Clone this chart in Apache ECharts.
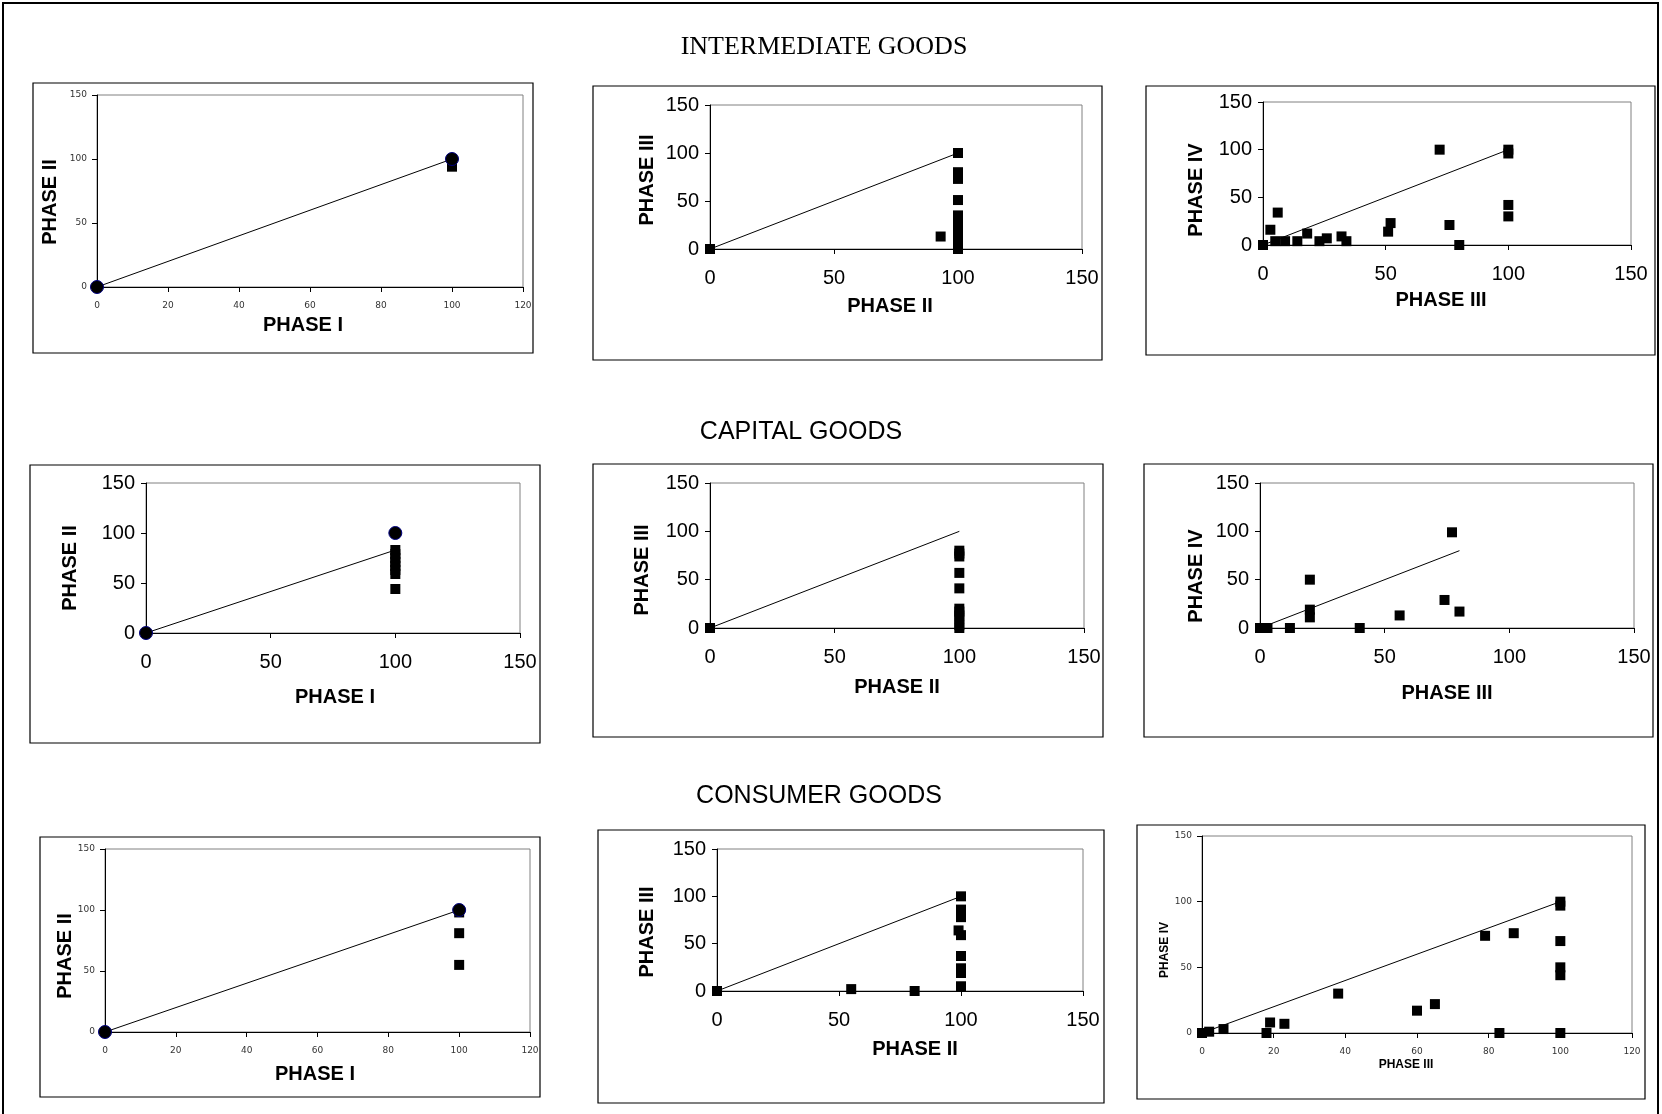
<!DOCTYPE html>
<html><head><meta charset="utf-8">
<script src="https://cdn.jsdelivr.net/npm/echarts@6/dist/echarts.min.js"></script>
<style>html,body{margin:0;padding:0;background:#fff}#c{width:1662px;height:1114px}</style>
</head><body><div id="c"></div>
<script>
// ---------- data ----------
const sectionTitles = ['INTERMEDIATE GOODS', 'CAPITAL GOODS', 'CONSUMER GOODS'];
const xTitles = ['PHASE I', 'PHASE II', 'PHASE III', 'PHASE I', 'PHASE II', 'PHASE III', 'PHASE I', 'PHASE II', 'PHASE III'];
const yTitles = ['PHASE II', 'PHASE III', 'PHASE IV', 'PHASE II', 'PHASE III', 'PHASE IV', 'PHASE II', 'PHASE III', 'PHASE IV'];
const xAxisMax = [120, 150, 150, 150, 150, 150, 120, 150, 120];
const xAxisStep = [20, 50, 50, 50, 50, 50, 20, 50, 20];
const yAxisMax = [150, 150, 150, 150, 150, 150, 150, 150, 150];
const yAxisStep = [50, 50, 50, 50, 50, 50, 50, 50, 50];

// Intermediate goods
const intIvsII = [[100, 100], [100, 98], [100, 96], [100, 94]];
const intIvsIIEnds = [[0, 0], [100, 100]];
const intIvsIITrend = [[0, 0], [100, 100]];
const intIIvsIII = [[0, 0], [93, 13], [100, 100], [100, 80], [100, 77], [100, 73], [100, 51], [100, 35], [100, 31], [100, 27], [100, 23], [100, 19], [100, 15], [100, 11], [100, 7], [100, 3], [100, 0]];
const intIIvsIIITrend = [[0, 0], [100, 100]];
const intIIIvsIV = [[0, 0], [3, 16], [6, 34], [5, 4], [9, 4], [14, 4], [18, 12], [23, 4], [26, 7], [32, 9], [34, 4], [51, 14], [52, 23], [72, 100], [76, 21], [80, 0], [100, 100], [100, 96], [100, 42], [100, 30]];
const intIIIvsIVTrend = [[0, 0], [100, 100]];

// Capital goods
const capIvsII = [[100, 83], [100, 79], [100, 75], [100, 71], [100, 67], [100, 63], [100, 59], [100, 44]];
const capIvsIIEnds = [[0, 0], [100, 100]];
const capIvsIITrend = [[0, 0], [100, 83]];
const capIIvsIII = [[0, 0], [100, 80], [100, 77], [100, 74], [100, 57], [100, 41], [100, 20], [100, 17], [100, 13], [100, 10], [100, 3], [100, 0]];
const capIIvsIIITrend = [[0, 0], [100, 100]];
const capIIIvsIV = [[0, 0], [3, 0], [12, 0], [20, 50], [20, 19], [20, 11], [40, 0], [56, 13], [74, 29], [77, 99], [80, 17]];
const capIIIvsIVTrend = [[0, 0], [80, 80]];

// Consumer goods
const conIvsII = [[100, 98], [100, 81], [100, 55]];
const conIvsIIEnds = [[0, 0], [100, 100]];
const conIvsIITrend = [[0, 0], [100, 100]];
const conIIvsIII = [[0, 0], [55, 2], [81, 0], [100, 100], [100, 86], [100, 82], [100, 78], [99, 64], [100, 59], [100, 37], [100, 24], [100, 19], [100, 5]];
const conIIvsIIITrend = [[0, 0], [100, 100]];
const conIIIvsIV = [[0, 0], [2, 1], [6, 3], [18, 0], [19, 8], [23, 7], [38, 30], [60, 17], [65, 22], [79, 74], [87, 76], [83, 0], [100, 100], [100, 97], [100, 70], [100, 50], [100, 44], [100, 0]];
const conIIIvsIVTrend = [[0, 0], [100, 100]];

const squareSets = [intIvsII, intIIvsIII, intIIIvsIV, capIvsII, capIIvsIII, capIIIvsIV, conIvsII, conIIvsIII, conIIIvsIV];
const trendSets = [intIvsIITrend, intIIvsIIITrend, intIIIvsIVTrend, capIvsIITrend, capIIvsIIITrend, capIIIvsIVTrend, conIvsIITrend, conIIvsIIITrend, conIIIvsIVTrend];
const endSets = [intIvsIIEnds, null, null, capIvsIIEnds, null, null, conIvsIIEnds, null, null];

// ---------- layout ----------
const plots = [
  [97, 95, 426, 192], [710, 105, 372, 144], [1263, 102, 368, 143],
  [146, 483, 374, 150], [710, 483, 374, 145], [1260, 483, 374, 145],
  [105, 849, 425, 183], [717, 849, 366, 142], [1202, 836, 430, 197]
];
const boxes = [
  [33, 83, 500, 270], [593, 86, 509, 274], [1146, 86, 509, 269],
  [30, 465, 510, 278], [593, 464, 510, 273], [1144, 464, 509, 273],
  [40, 837, 500, 260], [598, 830, 506, 273], [1137, 825, 508, 274]
];
const small = [true, false, false, false, false, false, true, false, true];
const yTitlePos = [[50, 202], [647, 180], [1196, 190], [70, 568], [642, 570], [1196, 576], [65, 956], [647, 932], [1165, 950]];
const xTitlePos = [[303, 325], [890, 306], [1441, 300], [335, 697], [897, 687], [1447, 693], [315, 1074], [915, 1049], [1406, 1065]];
const titleFont = [20, 20, 20, 20, 20, 20, 20, 20, 12];
const sectionPos = [[824, 47], [801, 432], [819, 796]];
const sectionFont = ['26px "Liberation Serif", "Times New Roman", serif', '25px "Liberation Sans", Arial, sans-serif', '25px "Liberation Sans", Arial, sans-serif'];

const grids = [], xAxes = [], yAxes = [], series = [], graphics = [];
graphics.push({type: 'rect', shape: {x: 3, y: 3, width: 1655, height: 1200}, style: {fill: null, stroke: '#000', lineWidth: 2}, silent: true, z: 100});
for (let i = 0; i < 9; i++) {
  const p = plots[i];
  grids.push({left: p[0], top: p[1], width: p[2], height: p[3], show: true, borderColor: '#808080', borderWidth: 1, backgroundColor: '#fff'});
  const lblSmall = {fontSize: 9, color: '#333', fontFamily: '"DejaVu Sans", sans-serif'};
  const lblBig = {fontSize: 20, color: '#000', fontFamily: '"Liberation Sans", Arial, sans-serif'};
  const lbl = small[i] ? lblSmall : lblBig;
  xAxes.push({gridIndex: i, type: 'value', min: 0, max: xAxisMax[i], interval: xAxisStep[i],
    axisLine: {show: true, onZero: false, lineStyle: {color: '#000', width: 1}},
    axisTick: {show: true, length: 5, lineStyle: {color: '#000'}},
    splitLine: {show: false},
    axisLabel: Object.assign({margin: small[i] ? 14 : 19}, lbl)});
  yAxes.push({gridIndex: i, type: 'value', min: 0, max: yAxisMax[i], interval: yAxisStep[i],
    axisLine: {show: true, onZero: false, lineStyle: {color: '#000', width: 1}},
    axisTick: {show: true, length: 5, lineStyle: {color: '#000'}},
    splitLine: {show: false},
    axisLabel: Object.assign({margin: small[i] ? 10 : 11}, lbl)});
  series.push({type: 'line', xAxisIndex: i, yAxisIndex: i, data: trendSets[i], symbol: 'none',
    lineStyle: {color: '#000', width: 1}, silent: true, z: 2});
  series.push({type: 'scatter', xAxisIndex: i, yAxisIndex: i, data: squareSets[i], symbol: 'rect', symbolSize: 10,
    itemStyle: {color: '#000', opacity: 1}, z: 3});
  if (endSets[i]) {
    series.push({type: 'scatter', xAxisIndex: i, yAxisIndex: i, data: endSets[i], symbol: 'circle', symbolSize: 13,
      itemStyle: {color: '#000', borderColor: '#000080', borderWidth: 1, opacity: 1}, z: 4});
  }
  const b = boxes[i];
  graphics.push({type: 'rect', shape: {x: b[0], y: b[1], width: b[2], height: b[3]}, style: {fill: null, stroke: '#000', lineWidth: 1.2}, silent: true, z: -1});
  const tf = 'bold ' + titleFont[i] + 'px "Liberation Sans", Arial, sans-serif';
  graphics.push({type: 'text', x: yTitlePos[i][0], y: yTitlePos[i][1], rotation: Math.PI / 2,
    style: {text: yTitles[i], font: tf, fill: '#000', align: 'center', verticalAlign: 'middle', textAlign: 'center', textVerticalAlign: 'middle'}, z: 50});
  graphics.push({type: 'text', x: xTitlePos[i][0], y: xTitlePos[i][1],
    style: {text: xTitles[i], font: tf, fill: '#000', align: 'center', verticalAlign: 'middle', textAlign: 'center', textVerticalAlign: 'middle'}, z: 50});
}
for (let k = 0; k < 3; k++) {
  graphics.push({type: 'text', x: sectionPos[k][0], y: sectionPos[k][1],
    style: {text: sectionTitles[k], font: sectionFont[k], fill: '#000', align: 'center', verticalAlign: 'middle', textAlign: 'center', textVerticalAlign: 'middle'}, z: 50});
}
const chart = echarts.init(document.getElementById('c'), null, {renderer: 'canvas'});
chart.setOption({animation: false, backgroundColor: '#fff', grid: grids, xAxis: xAxes, yAxis: yAxes, series: series, graphic: graphics});
</script></body></html>
